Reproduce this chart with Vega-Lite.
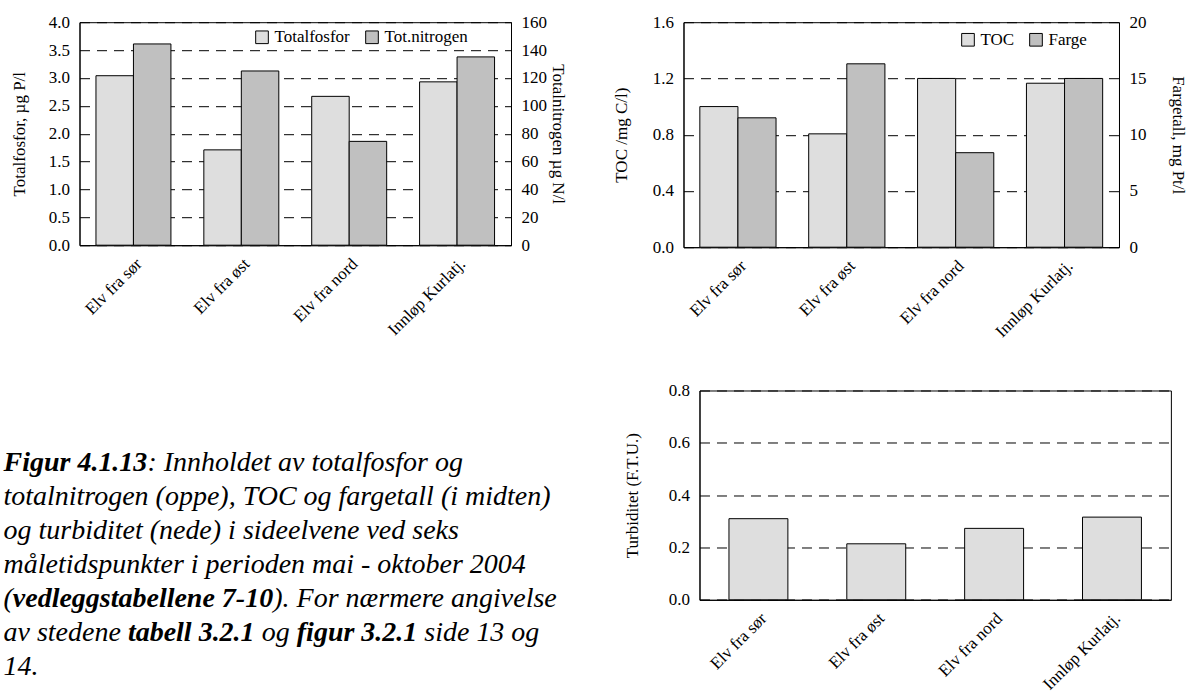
{
  "$schema": "https://vega.github.io/schema/vega-lite/v6.json",
  "background": "white",
  "padding": {"left": 3.5, "top": 12.2, "right": 0, "bottom": 0},
  "config": {
    "font": "'Liberation Serif', 'Times New Roman', Times, serif",
    "view": {"stroke": "#000", "strokeWidth": 1},
    "axis": {
      "labelFont": "'Liberation Serif', 'Times New Roman', Times, serif", "titleFont": "'Liberation Serif', 'Times New Roman', Times, serif",
      "labelFontSize": 17, "titleFontSize": 17, "titleFontWeight": "normal",
      "labelColor": "#000", "titleColor": "#000", "domainColor": "#000", "domainWidth": 1,
      "ticks": false, "grid": false, "gridColor": "#000", "gridDash": [10, 7], "gridWidth": 1,
      "labelPadding": 10, "labelFlush": false
    },
    "legend": {
      "labelFont": "'Liberation Serif', 'Times New Roman', Times, serif", "labelFontSize": 17, "labelColor": "#000",
      "symbolType": "square", "symbolSize": 160, "symbolStrokeColor": "#000", "symbolStrokeWidth": 1,
      "padding": 0, "offset": 0, "columnPadding": 13, "labelOffset": 4
    },
    "text": {"font": "'Liberation Serif', 'Times New Roman', Times, serif"}
  },
  "datasets": {
    "nut": [
      {"site": "Elv fra sør", "series": "Totalfosfor", "value": 3.04},
      {"site": "Elv fra sør", "series": "Tot.nitrogen", "value": 144.4},
      {"site": "Elv fra øst", "series": "Totalfosfor", "value": 1.71},
      {"site": "Elv fra øst", "series": "Tot.nitrogen", "value": 125.0},
      {"site": "Elv fra nord", "series": "Totalfosfor", "value": 2.67},
      {"site": "Elv fra nord", "series": "Tot.nitrogen", "value": 74.5},
      {"site": "Innløp Kurlatj.", "series": "Totalfosfor", "value": 2.93},
      {"site": "Innløp Kurlatj.", "series": "Tot.nitrogen", "value": 135.1}
    ],
    "toc": [
      {"site": "Elv fra sør", "series": "TOC", "value": 1.0},
      {"site": "Elv fra sør", "series": "Farge", "value": 11.5},
      {"site": "Elv fra øst", "series": "TOC", "value": 0.806},
      {"site": "Elv fra øst", "series": "Farge", "value": 16.3},
      {"site": "Elv fra nord", "series": "TOC", "value": 1.2},
      {"site": "Elv fra nord", "series": "Farge", "value": 8.4},
      {"site": "Innløp Kurlatj.", "series": "TOC", "value": 1.166},
      {"site": "Innløp Kurlatj.", "series": "Farge", "value": 15.0}
    ],
    "turb": [
      {"site": "Elv fra sør", "value": 0.31},
      {"site": "Elv fra øst", "value": 0.214},
      {"site": "Elv fra nord", "value": 0.273},
      {"site": "Innløp Kurlatj.", "value": 0.316}
    ],
    "caption": [
      {"line": 1, "seg": "b0", "text": "Figur 4.1.13"},
      {"line": 1, "seg": "i1", "text": ": Innholdet av totalfosfor og"},
      {"line": 2, "seg": "i0", "text": "totalnitrogen (oppe), TOC og fargetall (i midten)"},
      {"line": 3, "seg": "i0", "text": "og turbiditet (nede) i sideelvene ved seks"},
      {"line": 4, "seg": "i0", "text": "måletidspunkter i perioden mai - oktober 2004"},
      {"line": 5, "seg": "i0", "text": "("},
      {"line": 5, "seg": "b1", "text": "vedleggstabellene 7-10"},
      {"line": 5, "seg": "i2", "text": "). For nærmere angivelse"},
      {"line": 6, "seg": "i0", "text": "av stedene"},
      {"line": 6, "seg": "b2", "text": "tabell 3.2.1"},
      {"line": 6, "seg": "i3", "text": "og"},
      {"line": 6, "seg": "b3", "text": "figur 3.2.1"},
      {"line": 6, "seg": "i4", "text": "side 13 og"},
      {"line": 7, "seg": "i0", "text": "14."}
    ]
  },
  "bounds": "flush",
  "spacing": 368.3,
  "resolve": {
    "scale": {"x": "independent", "y": "independent", "xOffset": "independent", "fill": "independent"},
    "legend": {"fill": "independent"},
    "axis": {"x": "independent", "y": "independent"}
  },
  "vconcat": [
    {
      "bounds": "flush",
      "spacing": 172,
      "resolve": {
        "scale": {"x": "independent", "y": "independent", "xOffset": "independent", "fill": "independent"},
        "legend": {"fill": "independent"}
      },
      "hconcat": [
        {
          "width": 431.5, "height": 223,
          "data": {"name": "nut"},
          "encoding": {
            "x": {"field": "site", "type": "nominal", "sort": ["Elv fra sør", "Elv fra øst", "Elv fra nord", "Innløp Kurlatj."],
                  "scale": {"paddingInner": 0.305, "paddingOuter": 0.1525},
                  "axis": {"title": null, "labelAngle": -45, "labelPadding": 10}},
            "xOffset": {"field": "series", "type": "nominal", "sort": ["Totalfosfor", "Tot.nitrogen"],
                        "scale": {"domain": ["Totalfosfor", "Tot.nitrogen"], "paddingInner": 0, "paddingOuter": 0}},
            "fill": {"field": "series", "type": "nominal",
                     "scale": {"domain": ["Totalfosfor", "Tot.nitrogen"], "range": ["#dedede", "#c0c0c0"]},
                     "legend": {"orient": "none", "legendX": 174, "legendY": 6.5, "direction": "horizontal", "title": null}}
          },
          "layer": [
            {
              "transform": [{"filter": "datum.series === 'Totalfosfor'"}],
              "mark": {"type": "bar", "stroke": "#000", "strokeWidth": 1},
              "encoding": {"y": {"field": "value", "type": "quantitative", "scale": {"domain": [0, 4]},
                "axis": {"title": "Totalfosfor, µg P/l", "values": [0, 0.5, 1, 1.5, 2, 2.5, 3, 3.5, 4], "format": ".1f", "grid": true, "titlePadding": 20}}}
            },
            {
              "transform": [{"filter": "datum.series === 'Tot.nitrogen'"}],
              "mark": {"type": "bar", "stroke": "#000", "strokeWidth": 1},
              "encoding": {"y": {"field": "value", "type": "quantitative", "scale": {"domain": [0, 160]},
                "axis": {"orient": "right", "title": "Totalnitrogen µg N/l", "values": [0, 20, 40, 60, 80, 100, 120, 140, 160], "grid": false, "titlePadding": 2}}}
            }
          ],
          "resolve": {"scale": {"y": "independent"}}
        },
        {
          "width": 435.5, "height": 225,
          "data": {"name": "toc"},
          "encoding": {
            "x": {"field": "site", "type": "nominal", "sort": ["Elv fra sør", "Elv fra øst", "Elv fra nord", "Innløp Kurlatj."],
                  "scale": {"paddingInner": 0.3, "paddingOuter": 0.15},
                  "axis": {"title": null, "labelAngle": -45, "labelPadding": 10}},
            "xOffset": {"field": "series", "type": "nominal", "sort": ["TOC", "Farge"],
                        "scale": {"domain": ["TOC", "Farge"], "paddingInner": 0, "paddingOuter": 0}},
            "fill": {"field": "series", "type": "nominal",
                     "scale": {"domain": ["TOC", "Farge"], "range": ["#dedede", "#c0c0c0"]},
                     "legend": {"orient": "none", "legendX": 276, "legendY": 9, "direction": "horizontal", "title": null}}
          },
          "layer": [
            {
              "transform": [{"filter": "datum.series === 'TOC'"}],
              "mark": {"type": "bar", "stroke": "#000", "strokeWidth": 1},
              "encoding": {"y": {"field": "value", "type": "quantitative", "scale": {"domain": [0, 1.6]},
                "axis": {"title": "TOC /mg C/l)", "values": [0, 0.4, 0.8, 1.2, 1.6], "format": ".1f", "grid": true, "titlePadding": 22}}}
            },
            {
              "transform": [{"filter": "datum.series === 'Farge'"}],
              "mark": {"type": "bar", "stroke": "#000", "strokeWidth": 1},
              "encoding": {"y": {"field": "value", "type": "quantitative", "scale": {"domain": [0, 20]},
                "axis": {"orient": "right", "title": "Fargetall, mg Pt/l", "values": [0, 5, 10, 15, 20], "grid": false, "titlePadding": 23}}}
            }
          ],
          "resolve": {"scale": {"y": "independent"}}
        }
      ]
    },
    {
      "bounds": "flush",
      "spacing": 172,
      "resolve": {
        "scale": {"x": "independent", "y": "independent"}
      },
      "hconcat": [
        {
          "width": 447.8, "height": 300,
          "view": {"stroke": null},
          "data": {"name": "caption"},
          "encoding": {
            "y": {"field": "line", "type": "quantitative", "scale": {"domain": [-1.389, 7.461], "reverse": true, "zero": false, "nice": false}, "axis": null},
            "x": {"value": -76},
            "text": {"field": "text"}
          },
          "layer": [
            {"transform": [{"filter": "datum.seg === 'i0'"}], "mark": {"type": "text", "align": "left", "baseline": "alphabetic", "fontSize": 28, "fontStyle": "italic", "color": "#000", "dx": 0}},
            {"transform": [{"filter": "datum.seg === 'b0'"}], "mark": {"type": "text", "align": "left", "baseline": "alphabetic", "fontSize": 28, "fontStyle": "italic", "fontWeight": "bold", "color": "#000", "dx": 0}},
            {"transform": [{"filter": "datum.seg === 'i1'"}], "mark": {"type": "text", "align": "left", "baseline": "alphabetic", "fontSize": 28, "fontStyle": "italic", "color": "#000", "dx": 143.9}},
            {"transform": [{"filter": "datum.seg === 'b1'"}], "mark": {"type": "text", "align": "left", "baseline": "alphabetic", "fontSize": 28, "fontStyle": "italic", "fontWeight": "bold", "color": "#000", "dx": 9.3}},
            {"transform": [{"filter": "datum.seg === 'i2'"}], "mark": {"type": "text", "align": "left", "baseline": "alphabetic", "fontSize": 28, "fontStyle": "italic", "color": "#000", "dx": 269.8}},
            {"transform": [{"filter": "datum.seg === 'b2'"}], "mark": {"type": "text", "align": "left", "baseline": "alphabetic", "fontSize": 28, "fontStyle": "italic", "fontWeight": "bold", "color": "#000", "dx": 124.4}},
            {"transform": [{"filter": "datum.seg === 'i3'"}], "mark": {"type": "text", "align": "left", "baseline": "alphabetic", "fontSize": 28, "fontStyle": "italic", "color": "#000", "dx": 258.3}},
            {"transform": [{"filter": "datum.seg === 'b3'"}], "mark": {"type": "text", "align": "left", "baseline": "alphabetic", "fontSize": 28, "fontStyle": "italic", "fontWeight": "bold", "color": "#000", "dx": 293.3}},
            {"transform": [{"filter": "datum.seg === 'i4'"}], "mark": {"type": "text", "align": "left", "baseline": "alphabetic", "fontSize": 28, "fontStyle": "italic", "color": "#000", "dx": 420.8}}
          ]
        },
        {
          "width": 471.4, "height": 209.3,
          "data": {"name": "turb"},
          "mark": {"type": "bar", "fill": "#dedede", "stroke": "#000", "strokeWidth": 1},
          "encoding": {
            "x": {"field": "site", "type": "nominal", "sort": ["Elv fra sør", "Elv fra øst", "Elv fra nord", "Innløp Kurlatj."],
                  "scale": {"paddingInner": 0.5, "paddingOuter": 0.25},
                  "axis": {"title": null, "labelAngle": -45, "labelPadding": 10}},
            "y": {"field": "value", "type": "quantitative", "scale": {"domain": [0, 0.8]},
                  "axis": {"title": "Turbiditet (F.T.U.)", "values": [0, 0.2, 0.4, 0.6, 0.8], "format": ".1f", "grid": true, "titlePadding": 27}}
          }
        }
      ]
    }
  ]
}
